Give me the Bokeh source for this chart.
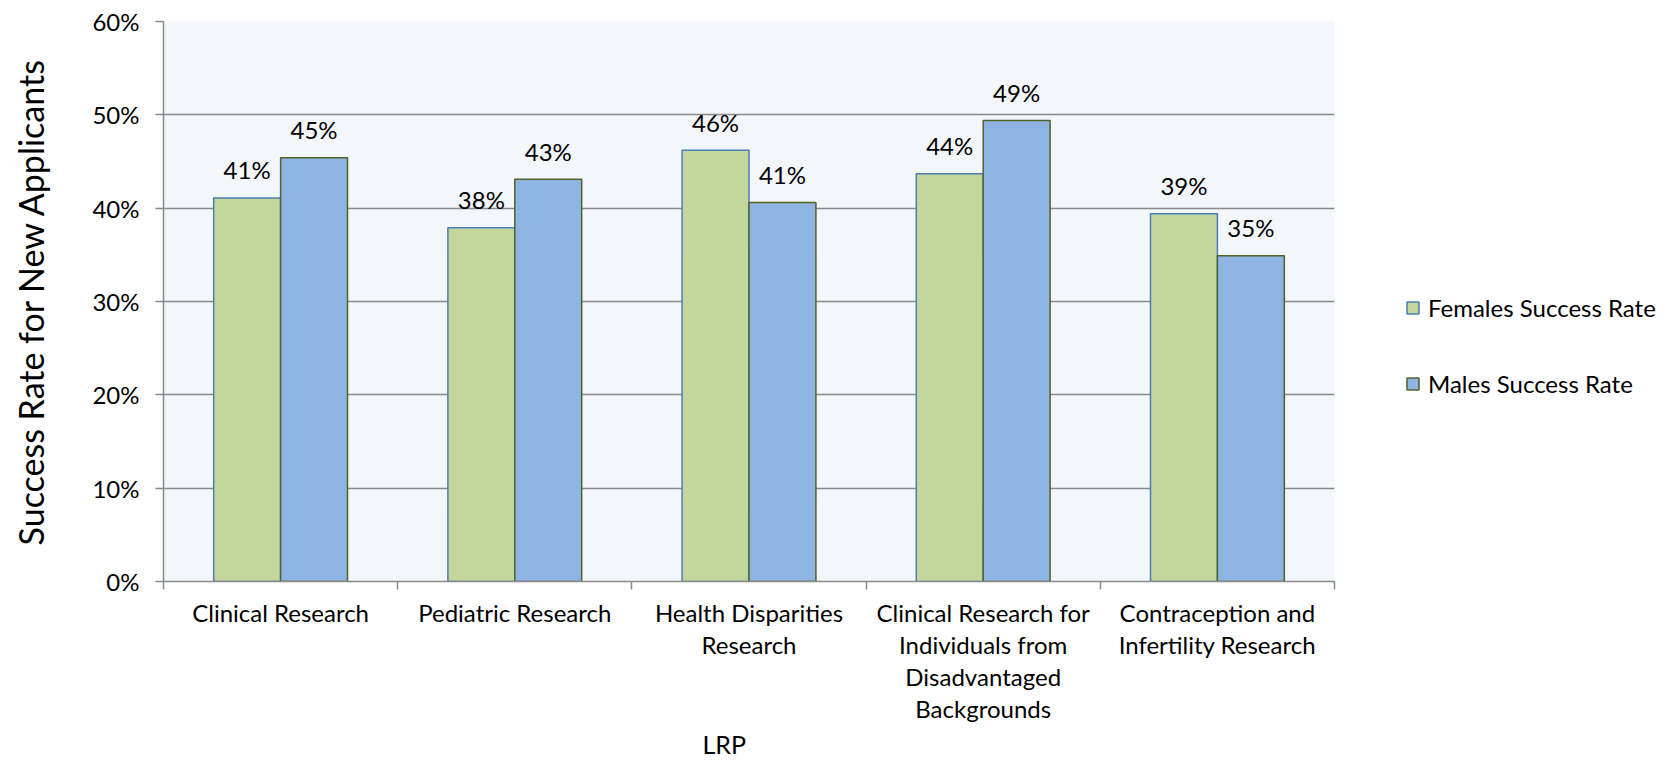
import numpy as np
from bokeh.plotting import figure
from bokeh.layouts import row
from bokeh.models import (Range1d, FixedTicker, PrintfTickFormatter, Legend,
                          LegendItem, Title, ColumnDataSource)
from bokeh.core.properties import value
from bokeh.embed import file_html
from bokeh.resources import INLINE

# ---------------- data ----------------
categories = [
    "Clinical Research",
    "Pediatric Research",
    "Health Disparities\nResearch",
    "Clinical Research for\nIndividuals from\nDisadvantaged\nBackgrounds",
    "Contraception and\nInfertility Research",
]
females = [41.1, 37.9, 46.2, 43.7, 39.4]
males = [45.4, 43.1, 40.6, 49.4, 34.9]
series_names = ["Females Success Rate", "Males Success Rate"]
y_ticks = [0, 10, 20, 30, 40, 50, 60]
x_title = "LRP"
y_title = "Success Rate for New Applicants"

# ---------------- style ----------------
FONT = "Lato"
GRAY = "#8a8a8a"
F_FILL, F_LINE = "#C3D69B", "#4A7EBB"
M_FILL, M_LINE = "#8EB4E3", "#4F6228"

W_MAIN, W_LEG, H = 1340, 333, 762
p = figure(width=W_MAIN, height=H, output_backend="svg", toolbar_location=None,
           x_range=Range1d(0, len(categories)), y_range=Range1d(0, 60),
           min_border_left=163, min_border_right=6,
           min_border_top=21, min_border_bottom=181)
p.outline_line_color = None
p.background_fill_color = "#F3F6FB"
p.border_fill_color = "white"

n = len(categories)
centers = np.arange(n) + 0.5
bw = 1 / 3.5

src_f = ColumnDataSource(dict(x=centers - bw / 2, top=females,
                              label=[f"{round(v)}%" for v in females]))
src_m = ColumnDataSource(dict(x=centers + bw / 2, top=males,
                              label=[f"{round(v)}%" for v in males]))

bar_f = dict(fill_color=F_FILL, line_color=F_LINE, line_width=1.5)
bar_m = dict(fill_color=M_FILL, line_color=M_LINE, line_width=1.5)

p.vbar(x="x", top="top", bottom=0, width=bw, source=src_f, **bar_f)
p.vbar(x="x", top="top", bottom=0, width=bw, source=src_m, **bar_m)

for src in (src_f, src_m):
    p.text(x="x", y="top", text="label", source=src, text_align="center",
           text_baseline="alphabetic", y_offset=-28,
           text_font=value(FONT), text_font_size="24px", text_color="black")

# ---------------- axes ----------------
xa = p.xaxis[0]
xa.ticker = FixedTicker(ticks=list(centers), minor_ticks=list(range(n + 1)))
xa.major_label_overrides = {float(c): lab for c, lab in zip(centers, categories)}
xa.major_tick_out = 0
xa.major_tick_in = 0
xa.minor_tick_out = 8
xa.minor_tick_in = 0
xa.minor_tick_line_color = GRAY
xa.minor_tick_line_width = 1.5
xa.axis_line_color = GRAY
xa.axis_line_width = 1.5
xa.major_label_standoff = 8
xa.major_label_text_font = FONT
xa.major_label_text_font_size = "24px"
xa.major_label_text_color = "black"
xa.major_label_text_line_height = 1.11

ya = p.yaxis[0]
yt = FixedTicker(ticks=y_ticks, minor_ticks=[])
ya.ticker = yt
ya.formatter = PrintfTickFormatter(format="%d%%")
ya.major_tick_out = 8
ya.major_tick_in = 0
ya.minor_tick_out = 0
ya.minor_tick_in = 0
ya.major_tick_line_color = GRAY
ya.major_tick_line_width = 1.5
ya.axis_line_color = GRAY
ya.axis_line_width = 1.5
ya.major_label_standoff = 16
ya.major_label_text_font = FONT
ya.major_label_text_font_size = "24px"
ya.major_label_text_color = "black"
ya.axis_label = y_title
ya.axis_label_text_font = FONT
ya.axis_label_text_font_size = "34px"
ya.axis_label_text_font_style = "normal"
ya.axis_label_text_color = "black"
ya.axis_label_standoff = 38

p.xgrid.visible = False
p.ygrid.ticker = yt
p.ygrid.grid_line_color = GRAY
p.ygrid.grid_line_width = 1.5

# ---------------- x title ----------------
p.add_layout(Title(text=x_title, align="left", offset=539, standoff=1,
                   text_font=FONT, text_font_size="25px",
                   text_font_style="normal", text_color="black"), "below")

# ---------------- legend (separate panel to the right) ----------------
lp = figure(width=W_LEG, height=H, output_backend="svg", toolbar_location=None,
            x_axis_location=None, y_axis_location=None,
            min_border_left=0, min_border_right=0,
            min_border_top=0, min_border_bottom=0)
lp.grid.visible = False
lp.outline_line_color = None
lp.background_fill_color = "white"
lp.border_fill_color = "white"
lf = lp.vbar(x="x", top="top", bottom=0, width=bw, source=src_f, visible=False, **bar_f)
lm = lp.vbar(x="x", top="top", bottom=0, width=bw, source=src_m, visible=False, **bar_m)
legend = Legend(items=[LegendItem(label=series_names[0], renderers=[lf]),
                       LegendItem(label=series_names[1], renderers=[lm])],
                location=(65, 183), orientation="vertical",
                glyph_width=15, glyph_height=15, label_standoff=8,
                spacing=47, padding=0, margin=0,
                border_line_color=None, background_fill_alpha=0,
                inactive_fill_alpha=0,
                label_text_font=FONT, label_text_font_size="24px",
                label_text_color="black", label_height=15)
lp.add_layout(legend)

layout = row(p, lp, spacing=0)
open("out.html", "w").write(file_html(layout, INLINE))
